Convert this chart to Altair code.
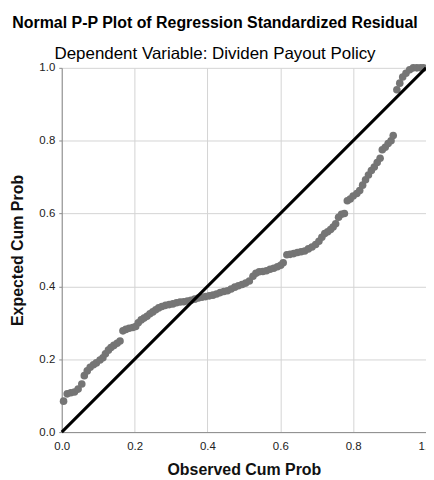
import altair as alt
import pandas as pd

observed = [0.005, 0.015, 0.025, 0.035, 0.045, 0.055, 0.062, 0.070, 0.078, 0.087,
            0.095, 0.105, 0.113, 0.120, 0.128, 0.135, 0.143, 0.152, 0.160, 0.168,
            0.176, 0.185, 0.195, 0.203, 0.210, 0.218, 0.226, 0.234, 0.242, 0.250,
            0.258, 0.266, 0.275, 0.285, 0.295, 0.305, 0.315, 0.325, 0.335, 0.345,
            0.355, 0.365, 0.375, 0.385, 0.395, 0.405, 0.415, 0.425, 0.435, 0.445,
            0.455, 0.465, 0.475, 0.485, 0.495, 0.505, 0.515, 0.525, 0.533, 0.542,
            0.552, 0.562, 0.572, 0.582, 0.592, 0.601, 0.608, 0.618, 0.627, 0.637,
            0.647, 0.657, 0.667, 0.677, 0.687, 0.697, 0.706, 0.714, 0.722, 0.730,
            0.738, 0.745, 0.752, 0.760, 0.768, 0.776, 0.784, 0.792, 0.800, 0.810,
            0.818, 0.826, 0.834, 0.842, 0.850, 0.858, 0.866, 0.874, 0.880, 0.888,
            0.896, 0.904, 0.910, 0.920, 0.928, 0.936, 0.945, 0.955, 0.965, 0.975,
            0.985, 0.993]
expected = [0.085, 0.105, 0.108, 0.110, 0.118, 0.132, 0.155, 0.168, 0.178, 0.185,
            0.190, 0.198, 0.204, 0.215, 0.225, 0.232, 0.238, 0.244, 0.250, 0.278,
            0.282, 0.285, 0.287, 0.290, 0.300, 0.308, 0.313, 0.318, 0.325, 0.330,
            0.336, 0.341, 0.345, 0.348, 0.350, 0.352, 0.355, 0.357, 0.358, 0.360,
            0.362, 0.365, 0.368, 0.370, 0.372, 0.374, 0.376, 0.379, 0.383, 0.386,
            0.388, 0.393, 0.398, 0.402, 0.405, 0.409, 0.415, 0.428, 0.436, 0.440,
            0.441, 0.443, 0.447, 0.450, 0.454, 0.458, 0.465, 0.487, 0.488, 0.490,
            0.493, 0.495, 0.497, 0.503, 0.508, 0.515, 0.524, 0.535, 0.545, 0.550,
            0.556, 0.563, 0.572, 0.590, 0.598, 0.600, 0.635, 0.640, 0.648, 0.655,
            0.663, 0.678, 0.693, 0.706, 0.718, 0.728, 0.740, 0.752, 0.775, 0.782,
            0.792, 0.800, 0.814, 0.940, 0.958, 0.975, 0.985, 0.995, 1.000, 1.000,
            1.000, 1.000]
diag = [0.0, 1.0]
ticks = [0.0, 0.2, 0.4, 0.6, 0.8, 1.0]

pts = pd.DataFrame({"obs": observed, "exp": expected})
line_df = pd.DataFrame({"obs": diag, "exp": diag})

xscale = alt.Scale(domain=[0, 1], nice=False)
yscale = alt.Scale(domain=[0, 1], nice=False)

xaxis = alt.Axis(title="Observed Cum Prob", values=ticks, format=".1f",
                 titleFontSize=16, titleFontWeight="bold", titlePadding=10,
                 labelFontSize=11.5, labelPadding=8, tickSize=0, labelFlush=False)
yaxis = alt.Axis(title="Expected Cum Prob", values=ticks, format=".1f",
                 titleFontSize=16, titleFontWeight="bold", titlePadding=13,
                 labelFontSize=11.5, labelPadding=4, tickSize=3, labelFlush=False)

points = alt.Chart(pts).mark_circle(size=58, color="#757575", opacity=1).encode(
    x=alt.X("obs:Q", scale=xscale, axis=xaxis),
    y=alt.Y("exp:Q", scale=yscale, axis=yaxis),
)
ref = alt.Chart(line_df).mark_line(color="black", strokeWidth=3).encode(
    x=alt.X("obs:Q", scale=xscale),
    y=alt.Y("exp:Q", scale=yscale),
)

chart = alt.layer(points, ref).properties(
    width=366, height=366,
    autosize=alt.AutoSizeParams(type="none"),
    padding={"left": 54, "top": 59, "right": 0, "bottom": 48},
    title=alt.TitleParams(
        text="Normal P-P Plot of Regression Standardized Residual",
        subtitle="Dependent Variable: Dividen Payout Policy",
        fontSize=16, fontWeight="bold", subtitleFontSize=17,
        subtitleFontWeight="normal", subtitlePadding=15, offset=0,
        anchor="middle", dx=-29, color="black", subtitleColor="black",
        font="Liberation Sans", subtitleFont="Liberation Sans",
    ),
).configure(font="Liberation Sans").configure_view(stroke=None).configure_axis(
    gridColor="#d4d4d4", gridWidth=1, domainColor="#8c8c8c", tickColor="#8c8c8c",
    labelColor="#222222", titleColor="#111111", labelFont="Liberation Sans",
    titleFont="Liberation Sans",
)

chart.save("out.html", embed_options={"renderer": "svg", "actions": False})
